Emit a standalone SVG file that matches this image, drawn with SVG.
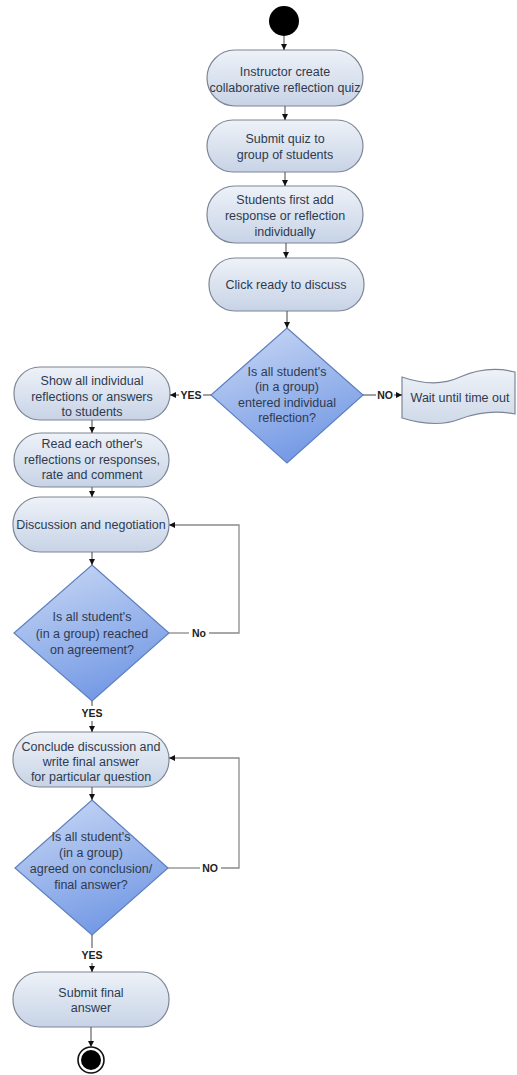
<svg xmlns="http://www.w3.org/2000/svg" width="517" height="1075" viewBox="0 0 517 1075">
<defs>
<linearGradient id="gNode" x1="0" y1="0" x2="0" y2="1">
<stop offset="0" stop-color="#eef2f8"/>
<stop offset="1" stop-color="#c7d3e6"/>
</linearGradient>
<linearGradient id="gDia" x1="0.2" y1="0" x2="0.6" y2="1">
<stop offset="0" stop-color="#c6d6f4"/>
<stop offset="1" stop-color="#7197e4"/>
</linearGradient>
<linearGradient id="gWait" x1="0" y1="0" x2="0" y2="1">
<stop offset="0" stop-color="#eef2f8"/>
<stop offset="1" stop-color="#cfd9e8"/>
</linearGradient>
<marker id="arr" markerUnits="userSpaceOnUse" markerWidth="7" markerHeight="7" refX="6" refY="3" orient="auto">
<path d="M0,0 L6,3 L0,6 Z" fill="#111"/>
</marker>
</defs>
<style>
.node{fill:url(#gNode);stroke:#7d8696;stroke-width:1.2}
.dia{fill:url(#gDia);stroke:#5f80c0;stroke-width:1.2}
.wait{fill:url(#gWait);stroke:#7d8696;stroke-width:1.2}
.t{font-family:"Liberation Sans",Arial,sans-serif;font-size:12.5px;fill:#2e3a4f;text-anchor:middle}
.c{fill:none;stroke:#555;stroke-width:1.1}
.loop{fill:none;stroke:#8a8a8a;stroke-width:1.3}
.a{marker-end:url(#arr)}
.lbl{font-family:"Liberation Sans",Arial,sans-serif;font-size:10.5px;font-weight:bold;fill:#222;text-anchor:middle}
</style>

<g id="start"><circle cx="284" cy="21" r="15" fill="#000"/></g>

<g id="n1"><rect class="node" x="207" y="50" width="156" height="56" rx="28"/>
<text class="t" x="285" y="76">Instructor create</text>
<text class="t" x="285" y="92">collaborative reflection quiz</text></g>

<g id="n2"><rect class="node" x="207" y="120" width="156" height="52" rx="26"/>
<text class="t" x="285" y="143">Submit quiz to</text>
<text class="t" x="285" y="159">group of students</text></g>

<g id="n3"><rect class="node" x="207" y="186" width="156" height="57" rx="28"/>
<text class="t" x="285" y="204">Students first add</text>
<text class="t" x="285" y="220">response or reflection</text>
<text class="t" x="285" y="236">individually</text></g>

<g id="n4"><rect class="node" x="209" y="258" width="155" height="53" rx="26"/>
<text class="t" x="286" y="289">Click ready to discuss</text></g>

<g id="d1"><polygon class="dia" points="287,328 363,395 287,463 211,395"/>
<text class="t" x="287" y="376">Is all student's</text>
<text class="t" x="287" y="391">(in a group)</text>
<text class="t" x="287" y="407">entered individual</text>
<text class="t" x="287" y="422">reflection?</text></g>

<g id="wait"><path class="wait" d="M402,377 C425,385 445,384 460,377 C476,370 495,367 515,372 L515,414 C495,410 476,413 460,419 C445,425 425,425 402,418 Z"/>
<text class="t" x="460" y="402">Wait until time out</text></g>

<g id="n5"><rect class="node" x="14" y="367" width="156" height="53" rx="26"/>
<text class="t" x="92" y="385">Show all individual</text>
<text class="t" x="92" y="401">reflections or answers</text>
<text class="t" x="92" y="416">to students</text></g>

<g id="n6"><rect class="node" x="14" y="433" width="155" height="54" rx="27"/>
<text class="t" x="92" y="448">Read each other's</text>
<text class="t" x="92" y="464">reflections or responses,</text>
<text class="t" x="92" y="479">rate and comment</text></g>

<g id="n7"><rect class="node" x="13" y="497" width="156" height="55" rx="27"/>
<text class="t" x="91" y="529">Discussion and negotiation</text></g>

<g id="d2"><polygon class="dia" points="92,565 169,633 92,701 14,633"/>
<text class="t" x="92" y="621">Is all student's</text>
<text class="t" x="92" y="638">(in a group) reached</text>
<text class="t" x="92" y="654">on agreement?</text></g>

<g id="n8"><rect class="node" x="13" y="732" width="156" height="55" rx="27"/>
<text class="t" x="91" y="751">Conclude discussion and</text>
<text class="t" x="91" y="766">write final answer</text>
<text class="t" x="91" y="781">for particular question</text></g>

<g id="d3"><polygon class="dia" points="92,800 168,868 92,935 15,868"/>
<text class="t" x="91" y="841">Is all student's</text>
<text class="t" x="91" y="857">(in a group)</text>
<text class="t" x="91" y="873">agreed on conclusion/</text>
<text class="t" x="91" y="889">final answer?</text></g>

<g id="n9"><rect class="node" x="13" y="972" width="156" height="55" rx="27"/>
<text class="t" x="91" y="997">Submit final</text>
<text class="t" x="91" y="1012">answer</text></g>

<g id="end"><circle cx="91" cy="1060" r="13" fill="#fff" stroke="#111" stroke-width="1.6"/><circle cx="91" cy="1060" r="10" fill="#000"/></g>

<g id="connectors">
<path class="c a" d="M284,36 L284,50"/>
<path class="c a" d="M285,106 L285,120"/>
<path class="c a" d="M285,172 L285,186"/>
<path class="c a" d="M286,243 L286,258"/>
<path class="c a" d="M287,311 L287,328"/>
<path class="c" d="M211,395 L203,395"/>
<path class="c a" d="M179,395 L170,395"/>
<text class="lbl" x="191" y="399">YES</text>
<path class="c" d="M363,395 L376,395"/>
<path class="c a" d="M394,395 L402,395"/>
<text class="lbl" x="385" y="399">NO</text>
<path class="c a" d="M92,420 L92,433"/>
<path class="c a" d="M92,487 L92,497"/>
<path class="c a" d="M92,552 L92,565"/>
<path class="loop" d="M169,633 L189,633"/>
<path class="loop a" d="M209,633 L239,633 L239,525 L169,525"/>
<text class="lbl" x="199" y="637">No</text>
<path class="c" d="M92,701 L92,706"/>
<text class="lbl" x="92" y="717">YES</text>
<path class="c a" d="M92,721 L92,732"/>
<path class="c a" d="M92,787 L92,800"/>
<path class="loop" d="M168,868 L200,868"/>
<path class="loop a" d="M221,868 L239,868 L239,758 L169,758"/>
<text class="lbl" x="210" y="872">NO</text>
<path class="c" d="M92,935 L92,948"/>
<text class="lbl" x="92" y="959">YES</text>
<path class="c a" d="M92,963 L92,972"/>
<path class="c a" d="M91,1027 L91,1047"/>
</g>
</svg>
